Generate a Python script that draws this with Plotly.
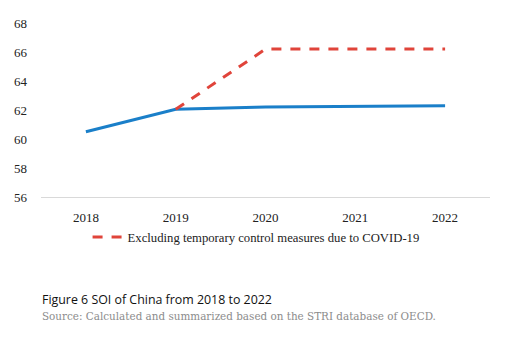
import plotly.graph_objects as go

years = ["2018", "2019", "2020", "2021", "2022"]
soi = [60.5, 62.05, 62.2, 62.25, 62.3]
soi_excl_covid = [None, 62.05, 66.2, 66.2, 66.2]
y_ticks = [56, 58, 60, 62, 64, 66, 68]

SERIF = "Liberation Serif, Times New Roman, serif"

fig = go.Figure()
fig.add_trace(go.Scatter(
    x=years, y=soi, mode="lines", name="SOI",
    line=dict(color="#1a7fc9", width=3), showlegend=False))
fig.add_trace(go.Scatter(
    x=years, y=soi_excl_covid, mode="lines",
    name="Excluding temporary control measures due to COVID-19",
    line=dict(color="#e0443a", width=3, dash="10px,9px")))

fig.update_layout(
    width=506, height=339,
    margin=dict(l=41, r=16, t=23, b=142),
    paper_bgcolor="white", plot_bgcolor="white",
    font=dict(family=SERIF, size=13, color="#222"),
    xaxis=dict(type="category", range=[-0.5, 4.5], showgrid=False,
               showline=True, linecolor="#d9d9d9", linewidth=1, ticks="",
               ticklabelstandoff=8,
               tickfont=dict(family=SERIF, size=13, color="#222")),
    yaxis=dict(range=[56, 68], tickvals=y_ticks, showgrid=False,
               zeroline=False, showline=False, ticks="",
               ticklabelstandoff=13,
               tickfont=dict(family=SERIF, size=13, color="#222")),
    legend=dict(orientation="h", x=0.479, xanchor="center", y=-0.232,
                yanchor="middle", bgcolor="rgba(0,0,0,0)",
                font=dict(family=SERIF, size=12.7, color="#222")),
    annotations=[
        dict(text="Figure 6 SOI of China from 2018 to 2022", xref="paper",
             yref="paper", x=-0.003, y=-0.59, xanchor="left",
             yanchor="middle", showarrow=False,
             font=dict(family="Open Sans", size=12.4, color="#111")),
        dict(text="Source: Calculated and summarized based on the STRI database of OECD.",
             xref="paper", yref="paper", x=-0.003, y=-0.684, xanchor="left",
             yanchor="middle", showarrow=False,
             font=dict(family="DejaVu Serif", size=10.4, color="#8c8c8c")),
    ],
)

fig.write_html("out.html")
